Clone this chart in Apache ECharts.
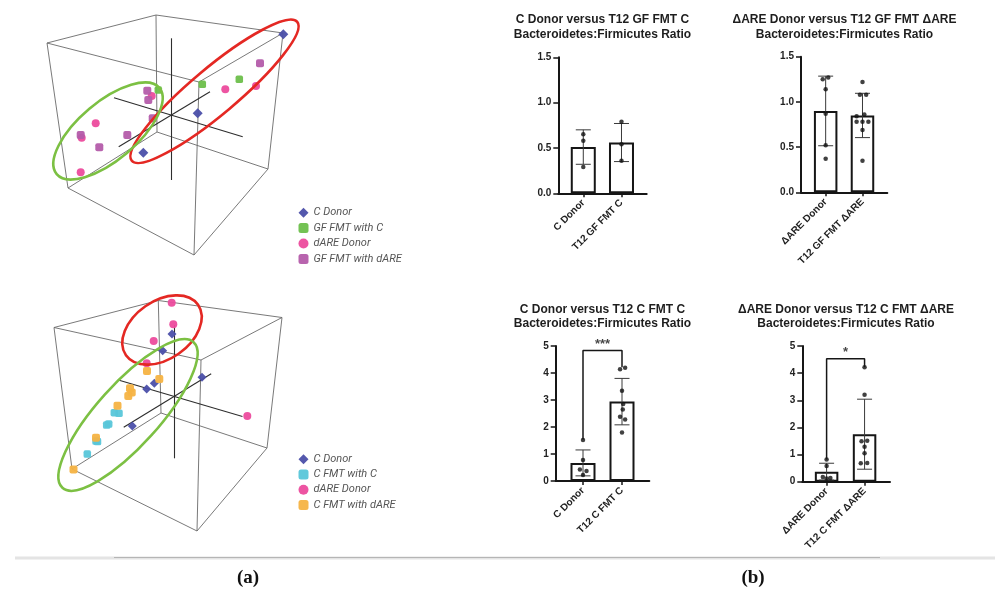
<!DOCTYPE html>
<html>
<head>
<meta charset="utf-8">
<script src="https://cdn.jsdelivr.net/npm/echarts@6/dist/echarts.min.js"></script>
<style>
  html, body { margin: 0; padding: 0; background: #fff; }
  #chart { width: 995px; height: 596px; }
</style>
</head>
<body>
<div id="chart"></div>
<script>
// ===================== (a) ordination plots =====================
// Positions are projected coordinates on the figure plane.

// Upper plot: GF recipients
const gfCDonor    = [[283.3, 34.3], [197.7, 113.3], [143.3, 152.7]];
const gfFmtC      = [[158.3, 90], [202.3, 84.3], [239.3, 79.3]];
const gfDareDonor = [[95.7, 123.3], [81.7, 137.7], [80.7, 172.3], [151.7, 96], [225.3, 89.3], [256, 86]];
const gfFmtDare   = [[260, 63.3], [147.3, 90.7], [148.3, 100], [152.7, 118.3], [80.7, 135], [127.3, 135], [99.3, 147.3]];

// Lower plot: C recipients
const cCDonor    = [[172, 334], [162.7, 350.7], [202, 377.3], [154.3, 383.3], [146.7, 389], [132.3, 426]];
const cFmtC      = [[114.3, 412.7], [119, 413.3], [106.7, 425], [108.7, 424], [96, 441], [97.5, 441.5], [87.3, 454]];
const cDareDonor = [[171.7, 302.7], [173.3, 324.3], [153.7, 341], [146.7, 363.3], [247.3, 416]];
const cFmtDare   = [[147, 371], [159.3, 379], [130, 388.3], [131.7, 392.5], [128.3, 396], [117.5, 405.7], [96, 437.7], [73.5, 469.5]];

// Bounding box wireframes: top face A B C D, then bottom face A' B' C' D'
const gfCube = [[47, 43], [156, 15], [283, 33], [199, 82], [68, 188], [157, 132], [268, 169], [194, 255]];
const cCube  = [[54, 327.5], [158.3, 300.5], [282, 317.5], [201, 360], [72, 469], [161, 413], [267, 448], [197, 531]];
const cubeEdges = [[0, 1], [1, 2], [2, 3], [3, 0], [4, 5], [5, 6], [6, 7], [7, 4], [0, 4], [1, 5], [2, 6], [3, 7]];

// Principal axes through the origin
const gfAxes = [[[171.7, 38.3], [171.7, 180]], [[114, 97.7], [242.7, 136.7]], [[118.7, 146.7], [210, 91.7]]];
const cAxes  = [[[174.3, 325], [174.3, 458.3]], [[118.3, 380], [242.5, 416.5]], [[123.7, 427.2], [211.2, 373.8]]];

// Cluster outlines: centre x, centre y, semi-major, semi-minor, tilt (deg)
const redOutlines   = [[214.5, 91.3, 108, 23, 40], [162, 330, 44, 29, 35]];
const greenOutlines = [[108, 131, 67, 29, 40], [128, 415, 98, 31, 48]];

// ===================== (b) Bacteroidetes:Firmicutes ratios =====================
const p1Title = 'C Donor versus T12 GF FMT C\nBacteroidetes:Firmicutes Ratio';
const p1Cats  = ['C Donor', 'T12 GF FMT C'];
const p1Means = [0.51, 0.56];
const p1Sd    = [0.19, 0.21];
const p1Dots  = [[0.65, 0.58, 0.29], [0.79, 0.54, 0.36]];
const p1Jit   = [[0, 0, 0], [0, 0, 0]];

const p2Title = 'ΔARE Donor versus T12 GF FMT ΔARE\nBacteroidetes:Firmicutes Ratio';
const p2Cats  = ['ΔARE Donor', 'T12 GF FMT ΔARE'];
const p2Means = [0.90, 0.85];
const p2Sd    = [0.385, 0.245];
const p2Dots  = [[1.27, 1.25, 1.14, 0.87, 0.52, 0.37], [1.22, 1.08, 1.08, 0.86, 0.84, 0.78, 0.78, 0.78, 0.69, 0.35]];
const p2Jit   = [[0.07, -0.08, 0, 0, 0, 0], [0, -0.07, 0.1, 0.05, -0.16, -0.16, 0, 0.16, 0, 0]];

const p3Title = 'C Donor versus T12 C FMT C\nBacteroidetes:Firmicutes Ratio';
const p3Cats  = ['C Donor', 'T12 C FMT C'];
const p3Means = [0.67, 2.94];
const p3Sd    = [0.48, 0.86];
const p3Dots  = [[1.52, 0.78, 0.43, 0.37, 0.22], [4.19, 4.14, 3.34, 2.85, 2.65, 2.38, 2.28, 1.80]];
const p3Jit   = [[0, 0, -0.08, 0.09, 0], [0.08, -0.05, 0, 0.03, 0.02, -0.05, 0.08, 0]];
const p3Bracket = [1.54, 4.83, 4.21];   // left end, bar height, right end
const p3Sig = '***';

const p4Title = 'ΔARE Donor versus T12 C FMT ΔARE\nBacteroidetes:Firmicutes Ratio';
const p4Cats  = ['ΔARE Donor', 'T12 C FMT ΔARE'];
const p4Means = [0.37, 1.75];
const p4Sd    = [0.31, 1.29];
const p4Dots  = [[0.82, 0.58, 0.17, 0.14, 0.12], [4.22, 3.20, 1.51, 1.49, 1.29, 1.05, 0.69, 0.68]];
const p4Jit   = [[0, 0, -0.1, 0.1, 0], [0, 0, 0.07, -0.08, 0, 0, 0.07, -0.1]];
const p4Bracket = [0.82, 4.53, 4.22];
const p4Sig = '*';

// ---------------------------------------------------------------
const BLUE = '#4b4fa9', GREEN = '#6dbf4b', PINK = '#ec4b9d', PURPLE = '#b45caa',
      CYAN = '#58c6d9', ORANGE = '#f5b343';
const INK = '#161616';
const ARIAL = '"Liberation Sans", Arial, sans-serif';

const grids = [{ left: 0, top: 0, width: 995, height: 596 }];
const xAxes = [{ type: 'value', min: 0, max: 995, show: false, gridIndex: 0 }];
const yAxes = [{ type: 'value', min: 0, max: 596, inverse: true, show: false, gridIndex: 0 }];
const series = [];
const titles = [];

// ---- wireframes and axes of the ordination plots
function segments(vertices) {
  return cubeEdges.map(e => ({ coords: [vertices[e[0]], vertices[e[1]]] }));
}
series.push({
  type: 'lines', coordinateSystem: 'cartesian2d', xAxisIndex: 0, yAxisIndex: 0, z: 1,
  data: segments(gfCube).concat(segments(cCube)),
  lineStyle: { color: '#6a6a6a', width: 0.9, opacity: 1 }, silent: true
});
series.push({
  type: 'lines', coordinateSystem: 'cartesian2d', xAxisIndex: 0, yAxisIndex: 0, z: 1,
  data: gfAxes.concat(cAxes).map(s => ({ coords: s })),
  lineStyle: { color: '#2e2e2e', width: 1.1, opacity: 1 }, silent: true
});

function scatter(name, data, symbol, size, color) {
  return {
    name, type: 'scatter', xAxisIndex: 0, yAxisIndex: 0, z: 3, data, symbol, symbolSize: size,
    itemStyle: { color, opacity: 0.95 }
  };
}
series.push(
  scatter('C Donor', gfCDonor, 'diamond', 10, BLUE),
  scatter('GF FMT with C', gfFmtC, 'roundRect', 7.5, GREEN),
  scatter('dARE Donor', gfDareDonor, 'circle', 8, PINK),
  scatter('GF FMT with dARE', gfFmtDare, 'roundRect', 8, PURPLE),
  scatter('C Donor', cCDonor, 'diamond', 9, BLUE),
  scatter('C FMT with C', cFmtC, 'roundRect', 7.5, CYAN),
  scatter('dARE Donor', cDareDonor, 'circle', 8, PINK),
  scatter('C FMT with dARE', cFmtDare, 'roundRect', 8, ORANGE)
);

function outline(data, color) {
  return {
    type: 'custom', xAxisIndex: 0, yAxisIndex: 0, z: 5, silent: true, data,
    renderItem: (params, api) => {
      const c = api.coord([api.value(0), api.value(1)]);
      const s = api.size([api.value(2), api.value(3)]);
      return {
        type: 'ellipse', x: c[0], y: c[1], rotation: api.value(4) * Math.PI / 180,
        shape: { cx: 0, cy: 0, rx: s[0], ry: s[1] },
        style: { fill: 'none', stroke: color, lineWidth: 2.6 }
      };
    }
  };
}
series.push(outline(redOutlines, '#e42823'), outline(greenOutlines, '#7cc043'));

const legendText = { fontFamily: 'Roboto, sans-serif', fontStyle: 'italic', fontSize: 11, color: '#555', lineHeight: 13 };
const legends = [
  { data: ['C Donor', 'GF FMT with C', 'dARE Donor', 'GF FMT with dARE'], orient: 'vertical',
    left: 298.5, top: 206.2, itemWidth: 10, itemHeight: 10, itemGap: 2.4, selectedMode: false, padding: 0, textStyle: legendText },
  { data: ['C Donor', 'C FMT with C', 'dARE Donor', 'C FMT with dARE'], orient: 'vertical',
    left: 298.5, top: 452.8, itemWidth: 10, itemHeight: 10, itemGap: 2.2, selectedMode: false, padding: 0, textStyle: legendText }
];

// ---- bar panels
const panels = [
  { title: p1Title, cats: p1Cats, means: p1Means, sd: p1Sd, dots: p1Dots, jit: p1Jit,
    yMax: 1.5, yStep: 0.5, digits: 1, box: [558.3, 57.3, 88.4, 136], xr: [-0.654, 1.66], barW: 25, titleAt: [602.5, 12.8] },
  { title: p2Title, cats: p2Cats, means: p2Means, sd: p2Sd, dots: p2Dots, jit: p2Jit,
    yMax: 1.5, yStep: 0.5, digits: 1, box: [801, 56.7, 86.3, 135.6], xr: [-0.67, 1.674], barW: 23.5, titleAt: [844.5, 12.8] },
  { title: p3Title, cats: p3Cats, means: p3Means, sd: p3Sd, dots: p3Dots, jit: p3Jit,
    yMax: 5, yStep: 1, digits: 0, box: [555.7, 346, 93.6, 135], xr: [-0.7, 1.7], barW: 25, titleAt: [602.5, 302],
    bracket: p3Bracket, sig: p3Sig },
  { title: p4Title, cats: p4Cats, means: p4Means, sd: p4Sd, dots: p4Dots, jit: p4Jit,
    yMax: 5, yStep: 1, digits: 0, box: [802.3, 346, 87.7, 135.7], xr: [-0.64, 1.67], barW: 23.5, titleAt: [846, 302],
    bracket: p4Bracket, sig: p4Sig }
];

panels.forEach((p, n) => {
  const g = n + 1;
  grids.push({ left: p.box[0], top: p.box[1], width: p.box[2], height: p.box[3] });
  xAxes.push({
    gridIndex: g, type: 'value', min: p.xr[0], max: p.xr[1],
    splitLine: { show: false },
    axisLine: { show: true, onZero: false, lineStyle: { color: INK, width: 2 } },
    axisTick: { show: true, customValues: [0, 1], length: 4, lineStyle: { color: INK, width: 1.5 } },
    axisLabel: {
      customValues: [0, 1], rotate: 45, margin: 8,
      formatter: v => p.cats[Math.round(v)] || '',
      fontFamily: ARIAL, fontWeight: 'bold', fontSize: 10, color: '#222'
    }
  });
  yAxes.push({
    gridIndex: g, type: 'value', min: 0, max: p.yMax, interval: p.yStep,
    splitLine: { show: false },
    axisLine: { show: true, onZero: false, lineStyle: { color: INK, width: 2 } },
    axisTick: { show: true, length: 5, lineStyle: { color: INK, width: 1.5 } },
    axisLabel: {
      margin: 7, formatter: v => v.toFixed(p.digits),
      fontFamily: ARIAL, fontWeight: 'bold', fontSize: 10, color: '#222'
    }
  });
  series.push({
    type: 'bar', xAxisIndex: g, yAxisIndex: g, barWidth: p.barW, z: 2,
    data: p.means.map((m, i) => [i, m]),
    itemStyle: { color: '#fff', borderColor: INK, borderWidth: 2 }
  });
  series.push({
    type: 'custom', xAxisIndex: g, yAxisIndex: g, z: 4, silent: true,
    data: p.means.map((m, i) => [i, m - p.sd[i], m + p.sd[i]]),
    encode: { x: 0, y: [1, 2] },
    renderItem: (params, api) => {
      const lo = api.coord([api.value(0), api.value(1)]);
      const hi = api.coord([api.value(0), api.value(2)]);
      const cap = 7.5, st = { stroke: '#3a3a3a', lineWidth: 1 };
      return {
        type: 'group', children: [
          { type: 'line', shape: { x1: lo[0], y1: lo[1], x2: hi[0], y2: hi[1] }, style: st },
          { type: 'line', shape: { x1: hi[0] - cap, y1: hi[1], x2: hi[0] + cap, y2: hi[1] }, style: st },
          { type: 'line', shape: { x1: lo[0] - cap, y1: lo[1], x2: lo[0] + cap, y2: lo[1] }, style: st }
        ]
      };
    }
  });
  const pts = [];
  p.dots.forEach((grp, i) => grp.forEach((v, j) => pts.push([i + p.jit[i][j], v])));
  series.push({
    type: 'scatter', xAxisIndex: g, yAxisIndex: g, z: 5, data: pts,
    symbol: 'circle', symbolSize: 4.5, itemStyle: { color: '#111' }, silent: true
  });
  if (p.bracket) {
    const b = p.bracket;
    series.push({
      type: 'line', xAxisIndex: g, yAxisIndex: g, z: 6, silent: true, symbol: 'none',
      data: [[0, b[0]], [0, b[1]], [1, b[1]], [1, b[2]]],
      lineStyle: { color: INK, width: 1.5 }
    });
    series.push({
      type: 'scatter', xAxisIndex: g, yAxisIndex: g, z: 6, silent: true, symbolSize: 0,
      data: [[0.5, b[1]]],
      label: { show: true, position: 'top', distance: 0, formatter: p.sig,
        fontFamily: ARIAL, fontWeight: 'bold', fontSize: 13, color: INK }
    });
  }
  titles.push({
    text: p.title, left: p.titleAt[0], top: p.titleAt[1], textAlign: 'center', padding: 0,
    textStyle: { fontFamily: ARIAL, fontWeight: 'bold', fontSize: 12, lineHeight: 14.5, color: '#1e1e1e' }
  });
});

// panel letters
['a', 'b'].forEach((t, i) => {
  titles.push({
    text: '{p|(}{b|' + t + '}{p|)}', left: [248, 753][i], top: 567, textAlign: 'center', padding: 0,
    textStyle: {
      rich: {
        p: { fontFamily: '"Liberation Serif", "DejaVu Serif", serif', fontSize: 19, color: '#111', lineHeight: 22 },
        b: { fontFamily: '"Liberation Serif", "DejaVu Serif", serif', fontSize: 19, fontWeight: 'bold', color: '#111', lineHeight: 22 }
      }
    }
  });
});

const chart = echarts.init(document.getElementById('chart'));
chart.setOption({
  animation: false,
  backgroundColor: '#fff',
  title: titles,
  legend: legends,
  grid: grids,
  xAxis: xAxes,
  yAxis: yAxes,
  series: series,
  graphic: [
    { type: 'line', silent: true, shape: { x1: 15, y1: 558, x2: 995, y2: 558 }, style: { stroke: '#e4e4e4', lineWidth: 3 } },
    { type: 'line', silent: true, shape: { x1: 114, y1: 557.5, x2: 880, y2: 557.5 }, style: { stroke: '#b5b5b5', lineWidth: 1 } }
  ]
});
</script>
</body>
</html>
